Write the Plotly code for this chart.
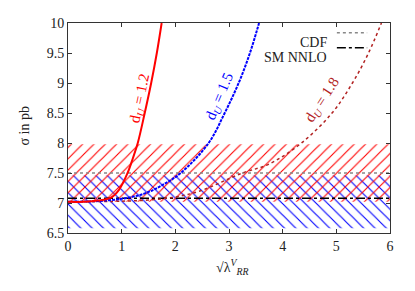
import plotly.graph_objects as go

# ---- data ----
x_d12 = [0, 0.3, 0.55, 0.8, 0.95, 1.11, 1.21, 1.30, 1.43, 1.55, 1.655, 1.745]
y_d12 = [7.02, 7.02, 7.04, 7.09, 7.22, 7.50, 7.75, 8.0, 8.5, 9.0, 9.5, 10.0]

x_d15 = [0, 0.5, 1.0, 1.4, 1.7, 2.1, 2.62, 2.92, 3.18, 3.39, 3.56]
y_d15 = [7.02, 7.03, 7.07, 7.15, 7.27, 7.5, 8.0, 8.5, 9.0, 9.5, 10.0]

x_d18 = [0, 1.0, 1.5, 2.0, 2.46, 3.25, 3.75, 4.35, 4.92, 5.3, 5.6, 5.84]
y_d18 = [7.02, 7.03, 7.05, 7.1, 7.2, 7.5, 7.65, 8.0, 8.5, 9.0, 9.5, 10.0]

cdf_band = [7.02, 7.98]
sm_band = [6.58, 7.46]
cdf_value = 7.5
sm_value = 7.08

x_range = [0, 6]
y_range = [6.5, 10]
x_ticks = [0, 1, 2, 3, 4, 5, 6]
y_ticks = [6.5, 7, 7.5, 8, 8.5, 9, 9.5, 10]
y_ticklabels = ["6.5", "7", "7.5", "8", "8.5", "9", "9.5", "10"]

FONT = "Liberation Serif, Times New Roman, serif"
RED = "#ff0000"
BLUE = "#0000ff"
BROWN = "#b22222"
INK = "#222222"

fig = go.Figure()

def band(lo, hi, shape, color):
    fig.add_trace(go.Scatter(
        x=[x_range[0], x_range[1], x_range[1], x_range[0], x_range[0]],
        y=[lo, lo, hi, hi, lo],
        mode="lines", line=dict(width=0), fill="toself",
        fillcolor=color,
        fillpattern=dict(shape=shape, fgcolor=color, fgopacity=1,
                         bgcolor="rgba(255,255,255,0)",
                         size=8, solidity=0.14),
        hoverinfo="skip", showlegend=False))

band(sm_band[0], sm_band[1], "\\", BLUE)
band(cdf_band[0], cdf_band[1], "/", RED)

fig.add_trace(go.Scatter(x=x_range, y=[cdf_value, cdf_value], mode="lines",
                         line=dict(color="#888888", width=1.5, dash="dot"),
                         showlegend=False))
fig.add_trace(go.Scatter(x=x_range, y=[sm_value, sm_value], mode="lines",
                         line=dict(color="#000000", width=1.5, dash="dashdot"),
                         showlegend=False))

fig.add_trace(go.Scatter(x=x_d18, y=y_d18, mode="lines", line_shape="spline",
                         line=dict(color=BROWN, width=1.5, dash="dot"), showlegend=False))
fig.add_trace(go.Scatter(x=x_d15, y=y_d15, mode="lines", line_shape="spline",
                         line=dict(color=BLUE, width=2, dash="3px,1px"), showlegend=False))
fig.add_trace(go.Scatter(x=x_d12, y=y_d12, mode="lines", line_shape="spline",
                         line=dict(color=RED, width=2), showlegend=False))

axis_common = dict(showline=True, linecolor="#333333", linewidth=1, mirror="ticks",
                   ticks="inside", ticklen=4, tickcolor="#333333", showgrid=False,
                   zeroline=False, tickfont=dict(family=FONT, size=14, color=INK))

fig.update_xaxes(range=x_range, tickvals=x_ticks, **axis_common)
fig.update_yaxes(range=y_range, tickvals=y_ticks, ticktext=y_ticklabels, **axis_common)

annotations = [
    dict(x=1.35, y=8.75, xref="x", yref="y", text="d<sub><i>U</i></sub> = 1.2",
         textangle=-78, showarrow=False, font=dict(family=FONT, size=15, color=RED)),
    dict(x=2.84, y=8.78, xref="x", yref="y", text="d<sub><i>U</i></sub> = 1.5",
         textangle=-67, showarrow=False, font=dict(family=FONT, size=15, color=BLUE)),
    dict(x=4.75, y=8.71, xref="x", yref="y", text="d<sub><i>U</i></sub> = 1.8",
         textangle=-57, showarrow=False, font=dict(family=FONT, size=15, color=BROWN)),
    dict(x=-0.165, y=0.509, xref="paper", yref="paper", text="σ in pb", textangle=-90,
         showarrow=False, font=dict(family=FONT, size=14, color=INK)),
    dict(x=0.509, y=-0.105, xref="paper", yref="paper", yanchor="top",
         text="√λ<sup><i>V</i></sup><sub><i>RR</i></sub>",
         showarrow=False, font=dict(family=FONT, size=14, color=INK)),
    dict(x=0.81, y=0.954, xref="paper", yref="paper", text="CDF", xanchor="right",
         showarrow=False, font=dict(family=FONT, size=14, color=INK)),
    dict(x=0.81, y=0.882, xref="paper", yref="paper", text="SM NNLO", xanchor="right",
         showarrow=False, font=dict(family=FONT, size=14, color=INK)),
]

shapes = [
    dict(type="line", xref="paper", yref="paper", x0=0.835, x1=0.929, y0=0.954, y1=0.954,
         line=dict(color="#888888", width=1.5, dash="dot")),
    dict(type="line", xref="paper", yref="paper", x0=0.835, x1=0.929, y0=0.882, y1=0.882,
         line=dict(color="#000000", width=1.5, dash="dashdot")),
]

# page body has an 8px margin, so the figure is shrunk to keep the plot area in place
fig.update_layout(width=407, height=283, margin=dict(l=60, r=25, t=8, b=58),
                  paper_bgcolor="white", plot_bgcolor="white",
                  annotations=annotations, shapes=shapes, showlegend=False)

fig.write_html("out.html")
